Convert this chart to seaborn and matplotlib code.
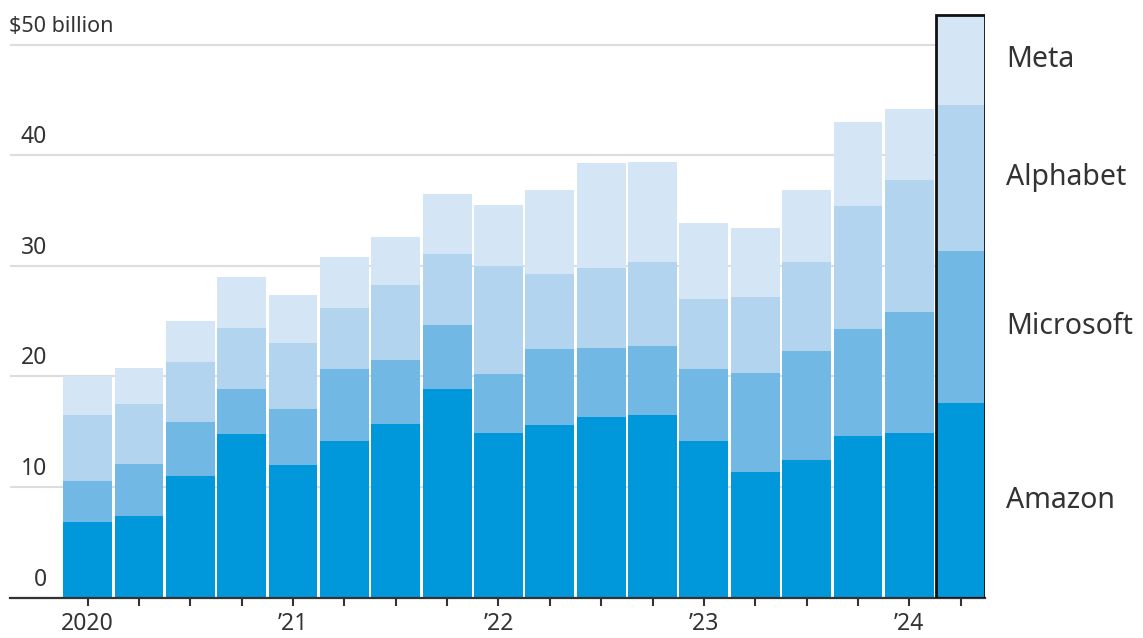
import numpy as np
import pandas as pd
import matplotlib
matplotlib.use("Agg")
import matplotlib.pyplot as plt
from matplotlib.transforms import ScaledTranslation
import seaborn as sns

# ---- data (billions of dollars, quarterly capex) ----
quarters = ["2020Q1", "2020Q2", "2020Q3", "2020Q4",
            "2021Q1", "2021Q2", "2021Q3", "2021Q4",
            "2022Q1", "2022Q2", "2022Q3", "2022Q4",
            "2023Q1", "2023Q2", "2023Q3", "2023Q4",
            "2024Q1", "2024Q2"]
amazon    = [6.8, 7.4, 11.0, 14.8, 12.0, 14.2, 15.7, 18.9, 14.9, 15.6, 16.3, 16.5, 14.2, 11.4, 12.4, 14.6, 14.9, 17.6]
microsoft = [3.7, 4.7, 4.9, 4.1, 5.1, 6.5, 5.8, 5.8, 5.3, 6.9, 6.3, 6.3, 6.5, 8.9, 9.9, 9.7, 10.9, 13.8]
alphabet  = [6.0, 5.4, 5.4, 5.5, 5.9, 5.5, 6.8, 6.4, 9.8, 6.8, 7.2, 7.6, 6.3, 6.9, 8.1, 11.1, 12.0, 13.2]
meta      = [3.5, 3.3, 3.7, 4.6, 4.4, 4.6, 4.3, 5.4, 5.5, 7.6, 9.5, 9.0, 6.9, 6.2, 6.5, 7.6, 6.4, 8.1]
series_names = ["Amazon", "Microsoft", "Alphabet", "Meta"]
tick_labels = ["2020", "", "", "", "\u201921", "", "", "", "\u201922", "", "", "",
               "\u201923", "", "", "", "\u201924", ""]
y_ticks = [0, 10, 20, 30, 40, 50]
y_tick_labels = ["0", "10", "20", "30", "40", "$50 billion"]

colors = {"Amazon": "#0098db", "Microsoft": "#72b8e5",
          "Alphabet": "#b3d4ef", "Meta": "#d4e6f6"}

df = pd.DataFrame({"quarter": quarters, "Amazon": amazon, "Microsoft": microsoft,
                   "Alphabet": alphabet, "Meta": meta})
cum = df[series_names].cumsum(axis=1)

sns.set_theme(style="white")
plt.rcParams["font.family"] = ["Noto Sans", "DejaVu Sans"]
TXT = "#333333"

W, H = 1143, 638
fig = plt.figure(figsize=(W / 100, H / 100), dpi=100)
ax = fig.add_axes([10 / W, 40.5 / H, 975 / W, 597.5 / H])

bw = 0.95
# draw from the top layer down so each cumulative bar overlaps the previous one
for name in reversed(series_names):
    sns.barplot(x=df["quarter"], y=cum[name], color=colors[name], width=bw,
                saturation=1, edgecolor="none", linewidth=0, ax=ax, zorder=2)

# outline around the latest quarter
last = len(quarters) - 1
ax.bar(last, cum["Meta"].iloc[last], width=bw, fill=False, edgecolor="#111111",
       linewidth=2, zorder=3)

ax.set_xlim(-1.513, 17.475)
ax.set_ylim(0, 54.07)
ax.set_xlabel("")
ax.set_ylabel("")

# gridlines
ax.set_axisbelow(True)
ax.yaxis.grid(True, color="#dddddd", linewidth=1.5)
ax.xaxis.grid(False)

for s in ["top", "right", "left"]:
    ax.spines[s].set_visible(False)
ax.spines["bottom"].set_color(TXT)
ax.spines["bottom"].set_linewidth(1.6)

# x ticks
ax.set_xticks(range(len(quarters)))
ax.set_xticklabels(tick_labels)
ax.tick_params(axis="x", bottom=True, length=6, width=1.5, color=TXT,
               pad=4.5, labelsize=16.5, labelcolor=TXT)

# y ticks (labels sit above the gridlines, inside the plot)
ax.set_yticks(y_ticks)
ax.set_yticklabels(y_tick_labels)
ax.tick_params(axis="y", left=False, length=0, pad=-37 * 0.72,
               labelsize=16.5, labelcolor=TXT)
for i, lab in enumerate(ax.get_yticklabels()):
    dx = 0.0
    if i == len(y_ticks) - 1:
        lab.set_ha("left")
        lab.set_fontsize(15.5)
        dx = -0.38
    lab.set_transform(lab.get_transform() + ScaledTranslation(dx, 0.21, fig.dpi_scale_trans))

# direct labels beside the last bar, centred on each segment
prev = 0.0
for name in series_names:
    top = cum[name].iloc[last]
    ax.text(17.88, (prev + top) / 2, name, ha="left", va="center",
            fontsize=20.5, color=TXT, clip_on=False)
    prev = top

fig.savefig("out.png", dpi=100, facecolor="white")
